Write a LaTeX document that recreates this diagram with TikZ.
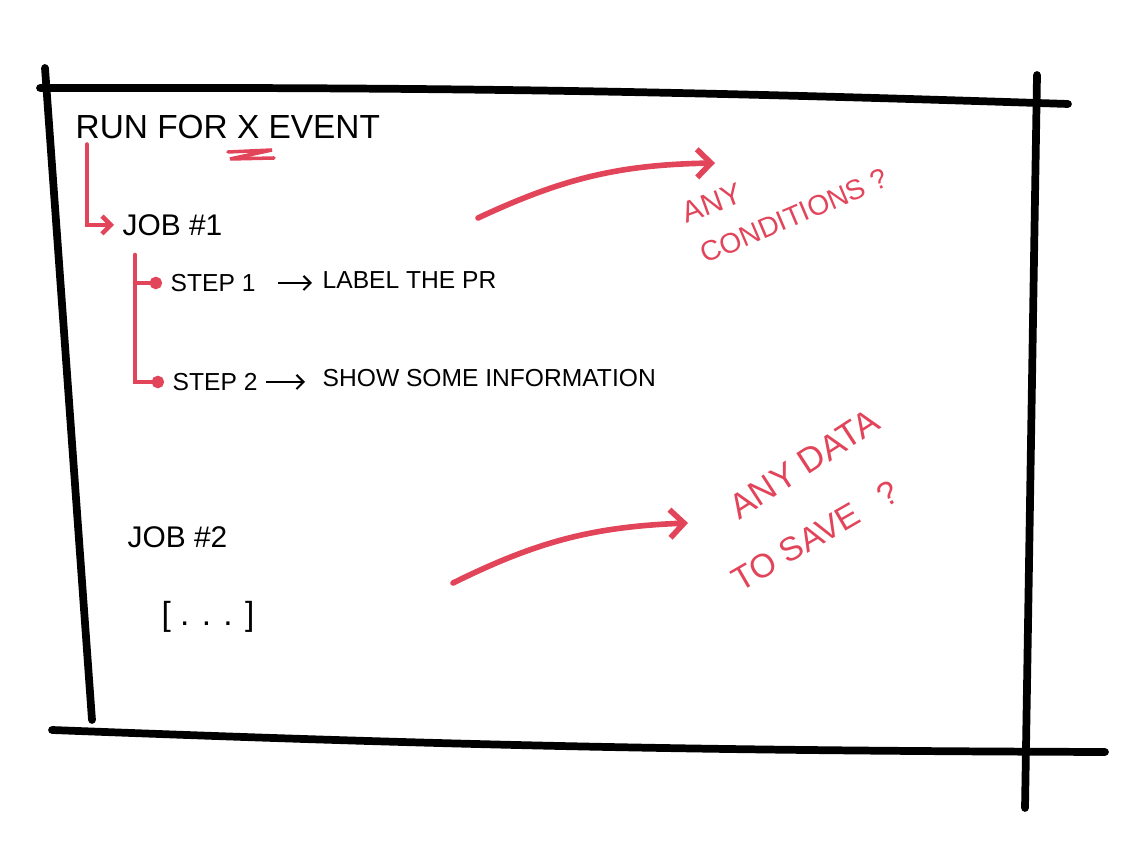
\documentclass[tikz,border=0pt]{standalone}
\usepackage{fontspec}
\setmainfont{Liberation Sans}
\usetikzlibrary{arrows.meta}

\definecolor{penred}{RGB}{226,68,90}

\tikzset{
  frameline/.style={line width=2.2pt,line cap=round,black},
  redpen/.style={line width=1.3pt,line cap=round,penred},
  handtext/.style={inner sep=0pt,anchor=west,font=\fontsize{7}{9}\selectfont},
  bigtext/.style={inner sep=0pt,anchor=west,font=\fontsize{9.5}{12}\selectfont},
  redtext/.style={inner sep=0pt,text=penred,font=\fontsize{8}{10}\selectfont}
}

\begin{document}
\begin{tikzpicture}
    \useasboundingbox (0,0) rectangle (11.29,8.46);

    % Frame
    \draw[frameline] (0.40,7.58) to[bend left=1] (10.68,7.42);
    \draw[frameline] (0.45,7.78) -- (0.92,1.26);
    \draw[frameline] (0.52,1.16) to[bend right=1] (11.05,0.94);
    \draw[frameline] (10.37,7.71) -- (10.25,0.38);

    % Event and jobs
    \node[bigtext] (run) at (0.75,7.19) {RUN FOR X EVENT};
    \draw[redpen,line width=1pt] (2.28,6.94) -- (2.72,6.96) -- (2.30,6.87) -- (2.74,6.88);
    \node[bigtext,font=\fontsize{8.5}{10}\selectfont] (job1) at (1.22,6.21) {JOB \#1};
    \node[handtext] (step1) at (1.70,5.63) {STEP 1};
    \node[handtext] (label) at (3.22,5.66) {LABEL THE PR};
    \node[handtext] (step2) at (1.72,4.64) {STEP 2};
    \node[handtext] (info) at (3.22,4.68) {SHOW SOME INFORMATION};
    \node[bigtext,font=\fontsize{8.5}{10}\selectfont] (job2) at (1.27,3.09) {JOB \#2};
    \node[bigtext,anchor=center] (more) at (2.08,2.29) {[ . . . ]};

    \draw[redpen,-{Straight Barb[length=2.5pt]}] ([xshift=0.12cm,yshift=-0.05cm]run.south west) |- ([xshift=-0.08cm]job1.west);
    \coordinate (stem) at (1.35,5.91);
    \draw[redpen,-{Circle[length=3.5pt]}] (stem) |- ([xshift=-0.08cm]step2.west);
    \draw[redpen,-{Circle[length=3.5pt]}] (stem |- step1.west) -- ([xshift=-0.08cm]step1.west);
    \draw[line width=0.6pt,-{Straight Barb[length=2pt]},shorten <=0.22cm,shorten >=0.1cm] (step1.east) -- (label.west |- step1.east);
    \draw[line width=0.6pt,-{Straight Barb[length=2pt]},shorten <=0.08cm,shorten >=0.17cm] (step2.east) -- (info.west |- step2.east);

    % Questions
    \coordinate (a1start) at (4.78,6.28);
    \coordinate (a1end) at (7.15,6.83);
    \draw[redpen,line width=1.6pt,-{Straight Barb[length=4pt]}] (a1start) to[bend left=12] (a1end);
    \node[redtext,font=\fontsize{8.5}{10}\selectfont,rotate=20] (any1) at (7.12,6.43) {ANY};
    \node[redtext,rotate=23] (cond) at (7.94,6.30) {CONDITIONS ?};

    \coordinate (a2start) at (4.53,2.63);
    \coordinate (a2end) at (6.88,3.23);
    \draw[redpen,line width=1.6pt,-{Straight Barb[length=4pt]}] (a2start) to[bend left=12] (a2end);
    \node[redtext,font=\fontsize{10}{12}\selectfont,rotate=33] (anydata) at (8.04,3.82) {ANY DATA};
    \node[redtext,font=\fontsize{9.5}{12}\selectfont,rotate=30] (tosave) at (8.15,3.10) {TO SAVE \enspace ?};
  \end{tikzpicture}
\end{document}
